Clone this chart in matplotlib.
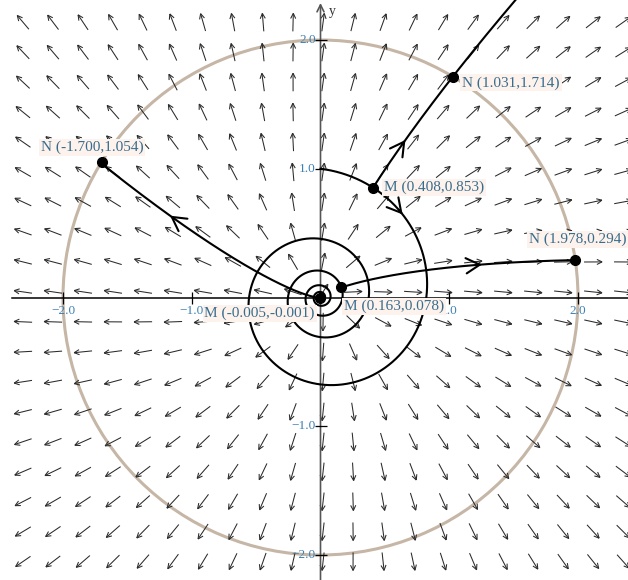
import numpy as np
import matplotlib
matplotlib.use("Agg")
import matplotlib.pyplot as plt
from matplotlib.collections import LineCollection
from matplotlib.patches import Circle

# Flow  x' = growth*x + turn*y,  y' = growth*y - turn*x  (outward spiral, turning clockwise)
growth = 1.0
turn = 0.125

# Start points M of the three solution paths and where they cross the circle (N)
m_x = [-0.005, 0.163, 0.408]
m_y = [-0.001, 0.078, 0.853]
n_x = [-1.700, 1.978, 1.031]
n_y = [1.054, 0.294, 1.714]
circle_radius = 2.0

tick_values = [-2.0, -1.0, 1.0, 2.0]
tick_labels = ["\u22122.0", "\u22121.0", "1.0", "2.0"]

plt.rcParams["font.family"] = ["Liberation Serif", "DejaVu Serif"]

W, H, DPI = 628, 580, 100
fig = plt.figure(figsize=(W / DPI, H / DPI), dpi=DPI)
ax = fig.add_axes([0, 0, 1, 1])
scale = 128.75          # pixels per unit
ox, oy = 320.5, 297.5   # pixel position of the origin
ax.set_xlim(-ox / scale, (W - ox) / scale)
ax.set_ylim(-(H - oy) / scale, oy / scale)
ax.set_aspect("equal")
ax.axis("off")


def field(x, y):
    return growth * x + turn * y, growth * y - turn * x


def flow(x0, y0, t):
    c, s = np.cos(turn * t), np.sin(turn * t)
    e = np.exp(growth * t)
    return e * (x0 * c + y0 * s), e * (-x0 * s + y0 * c)


# ---- direction field: equal-length arrows with open heads ----
gx = np.linspace(-2.31, 2.35, 21)
gy = np.linspace(-2.05, 2.137, 19)
L, hl, ha = 0.14, 0.045, np.radians(26)
segs = []
for px in gx:
    for py in gy:
        u, v = field(px, py)
        n = np.hypot(u, v)
        if n == 0:
            continue
        u, v = u / n, v / n
        tail = (px - u * L / 2, py - v * L / 2)
        head = (px + u * L / 2, py + v * L / 2)
        segs.append([tail, head])
        for sgn in (1, -1):
            ca, sa = np.cos(sgn * ha), np.sin(sgn * ha)
            bx = -(u * ca - v * sa) * hl
            by = -(u * sa + v * ca) * hl
            segs.append([head, (head[0] + bx, head[1] + by)])
ax.add_collection(LineCollection(segs, colors="#2a2a2a", linewidths=0.75, zorder=2))

# ---- circle r = 2 ----
ax.add_patch(Circle((0, 0), circle_radius, fill=False, ec="#c6b6a6", lw=2.2, zorder=1))

# ---- axes ----
xl = ax.get_xlim()
yl = ax.get_ylim()
ax.axhline(0, xmin=12 / W, xmax=1, color="black", lw=1.1, zorder=3)
ax.annotate("", xy=(0, yl[1] - 3 / scale), xytext=(0, yl[0]),
            arrowprops=dict(arrowstyle="->,head_length=0.5,head_width=0.25",
                            color="#555555", lw=1.2, shrinkA=0, shrinkB=0), zorder=3)
ax.text(12 / scale, yl[1] - 12 / scale, "y", fontsize=10, color="#333333",
        ha="center", va="center", zorder=3)
ax.plot(tick_values, [0] * 4, "|", color="black", ms=8, mew=0.9, zorder=3)
ax.plot([0] * 4, tick_values, "_", color="black", ms=8, mew=0.9, zorder=3)
tick_color = "#3f80b2"
for v, lab in zip(tick_values, tick_labels):
    ax.annotate(lab, (v, 0), xytext=(0, -10), textcoords="offset points",
                ha="center", va="center", fontsize=9.5, color=tick_color, zorder=4)
    ax.annotate(lab, (0, v), xytext=(-3.5, 0), textcoords="offset points",
                ha="right", va="center", fontsize=9.5, color=tick_color, zorder=4)

# ---- curve through the M points: r = exp(turn*(theta - pi/2)), traced clockwise ----
r_in = np.hypot(m_x[0], m_y[0])
s_end = -np.log(r_in) / turn
s = np.linspace(0, s_end, 6000)
theta = np.pi / 2 - s
r = np.exp(-turn * s)
ax.plot(r * np.cos(theta), r * np.sin(theta), color="black", lw=1.5, zorder=5)

head_style = "->,head_length=0.45,head_width=0.25"


def head_at(xa, ya, xb, yb):
    ax.annotate("", xy=(xb, yb), xytext=(xa, ya),
                arrowprops=dict(arrowstyle=head_style, color="black", lw=1.5,
                                shrinkA=0, shrinkB=0, mutation_scale=22), zorder=6)


s_mark = np.pi / 2 - np.radians(45.3)
sa_, sb_ = s_mark - 0.05, s_mark
head_at(np.exp(-turn * sa_) * np.cos(np.pi / 2 - sa_), np.exp(-turn * sa_) * np.sin(np.pi / 2 - sa_),
        np.exp(-turn * sb_) * np.cos(np.pi / 2 - sb_), np.exp(-turn * sb_) * np.sin(np.pi / 2 - sb_))

# ---- solution paths from M outward ----
head_radius = [1.33, 1.28, 1.39]
for i in range(3):
    r0 = np.hypot(m_x[i], m_y[i])
    t_end = np.log(circle_radius / r0) / growth
    if i == 2:
        t_end = np.log(3.2 / r0) / growth   # this one runs on past the circle
    t = np.linspace(0, t_end, 800)
    px, py = flow(m_x[i], m_y[i], t)
    ax.plot(px, py, color="black", lw=1.5, zorder=5, solid_capstyle="round")
    th = np.log(head_radius[i] / r0) / growth
    xa, ya = flow(m_x[i], m_y[i], th - 0.03)
    xb, yb = flow(m_x[i], m_y[i], th)
    head_at(xa, ya, xb, yb)

# ---- points and labels ----
ax.plot(m_x, m_y, "o", color="black", ms=7, zorder=7)
ax.plot(n_x, n_y, "o", color="black", ms=7, zorder=7)

lab_color = "#386d8e"
box = dict(boxstyle="square,pad=0.12", fc="#fdf2ec", ec="none")
m_offsets = [((-3.6, -11.5), "right"), ((2.0, -13.5), "left"), ((8.0, 0.0), "left")]
n_offsets = [((-7.0, 10.5), "center"), ((1.5, 14.5), "center"), ((6.5, -4.3), "left")]
for i in range(3):
    (dx, dy), al = m_offsets[i]
    ax.annotate(f"M ({m_x[i]:.3f},{m_y[i]:.3f})", (m_x[i], m_y[i]), xytext=(dx, dy),
                textcoords="offset points", ha=al, va="center", fontsize=11,
                color=lab_color, bbox=box, zorder=8)
    (dx, dy), al = n_offsets[i]
    ax.annotate(f"N ({n_x[i]:.3f},{n_y[i]:.3f})", (n_x[i], n_y[i]), xytext=(dx, dy),
                textcoords="offset points", ha=al, va="center", fontsize=11,
                color=lab_color, bbox=box, zorder=8)

fig.savefig("out.png", dpi=DPI, facecolor="white")
